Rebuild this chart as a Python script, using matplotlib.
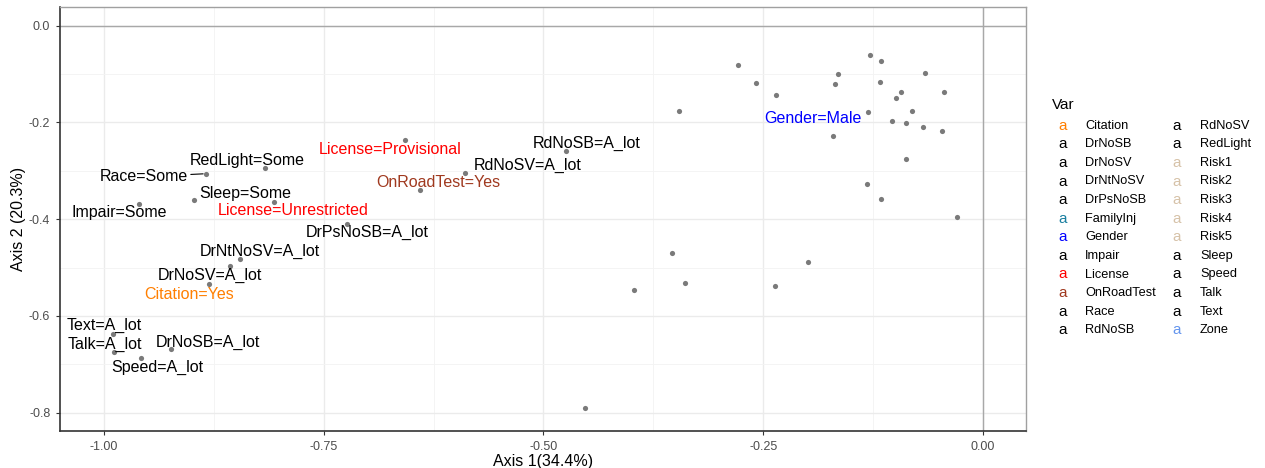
import matplotlib
matplotlib.use("Agg")
import matplotlib.pyplot as plt
from matplotlib.ticker import MultipleLocator

plt.rcParams['font.family'] = ['Liberation Sans', 'DejaVu Sans']

# labelled category coordinates (MCA axes 1 and 2)
lab_names = ["License=Provisional", "RedLight=Some", "Race=Some", "Sleep=Some",
             "Impair=Some", "License=Unrestricted", "OnRoadTest=Yes", "DrPsNoSB=A_lot",
             "DrNtNoSV=A_lot", "DrNoSV=A_lot", "Citation=Yes", "Text=A_lot",
             "Talk=A_lot", "Speed=A_lot", "DrNoSB=A_lot", "RdNoSB=A_lot",
             "RdNoSV=A_lot", "Gender=Male"]
lab_x = [-0.657, -0.817, -0.884, -0.898, -0.960, -0.807, -0.640, -0.723,
         -0.845, -0.857, -0.881, -0.990, -0.989, -0.958, -0.924, -0.474,
         -0.589, -0.131]
lab_y = [-0.237, -0.295, -0.306, -0.361, -0.368, -0.364, -0.340, -0.409,
         -0.483, -0.497, -0.535, -0.637, -0.675, -0.688, -0.669, -0.259,
         -0.304, -0.178]

# remaining category points, drawn without labels
pt_x = [-0.279, -0.258, -0.235, -0.346, -0.354, -0.397, -0.339, -0.237, -0.453,
        -0.128, -0.116, -0.165, -0.066, -0.168, -0.117, -0.093, -0.044, -0.099,
        -0.081, -0.103, -0.087, -0.068, -0.047, -0.171, -0.088, -0.132, -0.116,
        -0.029, -0.199]
pt_y = [-0.081, -0.119, -0.143, -0.176, -0.470, -0.547, -0.532, -0.538, -0.790,
        -0.061, -0.073, -0.099, -0.098, -0.121, -0.117, -0.137, -0.137, -0.150,
        -0.177, -0.197, -0.202, -0.210, -0.218, -0.228, -0.276, -0.327, -0.359,
        -0.396, -0.488]

# legend variables and their colours
var_names = ["Citation", "DrNoSB", "DrNoSV", "DrNtNoSV", "DrPsNoSB", "FamilyInj",
             "Gender", "Impair", "License", "OnRoadTest", "Race", "RdNoSB",
             "RdNoSV", "RedLight", "Risk1", "Risk2", "Risk3", "Risk4", "Risk5",
             "Sleep", "Speed", "Talk", "Text", "Zone"]
var_colors = ["#FF7F00", "black", "black", "black", "black", "#1A7FA0",
              "#0000FF", "black", "#FF0000", "#A0391F", "black", "black",
              "black", "black", "#D6C2A8", "#D6C2A8", "#D6C2A8", "#D6C2A8", "#D6C2A8",
              "black", "black", "black", "black", "#6495ED"]
color_of = dict(zip(var_names, var_colors))

# label placement (pixel offsets from the point, repel-style)
offsets = {
    "License=Provisional": (-15, -9), "RedLight=Some": (-18, 8), "Race=Some": (-62, -3),
    "Sleep=Some": (52, 7), "Impair=Some": (-20, -9), "License=Unrestricted": (20, -9),
    "OnRoadTest=Yes": (18, 8), "DrPsNoSB=A_lot": (20, -9), "DrNtNoSV=A_lot": (20, 8),
    "DrNoSV=A_lot": (-20, -9), "Citation=Yes": (-19, -10), "Text=A_lot": (-8, 8),
    "Talk=A_lot": (-9, 8), "Speed=A_lot": (16, -9), "DrNoSB=A_lot": (37, 7),
    "RdNoSB=A_lot": (20, 8), "RdNoSV=A_lot": (62, 7), "Gender=Male": (-55, -7),
}

W, H = 1265, 468
fig = plt.figure(figsize=(W / 100, H / 100), dpi=100)
ax = fig.add_axes([60 / W, 1 - 431 / H, 966 / W, 424 / H])

ax.set_xlim(-1.050, 0.049)
ax.set_ylim(-0.838, 0.0387)
ax.xaxis.set_major_locator(MultipleLocator(0.25))
ax.xaxis.set_minor_locator(MultipleLocator(0.125))
ax.yaxis.set_major_locator(MultipleLocator(0.2))
ax.yaxis.set_minor_locator(MultipleLocator(0.1))
ax.set_xticks([-1.0, -0.75, -0.5, -0.25, 0.0])
ax.set_xticklabels(["-1.00", "-0.75", "-0.50", "-0.25", "0.00"])
ax.set_yticks([0.0, -0.2, -0.4, -0.6, -0.8])
ax.set_yticklabels(["0.0", "-0.2", "-0.4", "-0.6", "-0.8"])

ax.grid(which="major", color="#EBEBEB", lw=1.0)
ax.grid(which="minor", color="#F3F3F3", lw=0.6)
ax.set_axisbelow(True)
ax.axhline(0, color="#A8A8A8", lw=1.0, zorder=1)
ax.axvline(0, color="#A8A8A8", lw=1.0, zorder=1)

for side in ["top", "right"]:
    ax.spines[side].set_color("#A0A0A0")
    ax.spines[side].set_linewidth(1.0)
for side in ["left", "bottom"]:
    ax.spines[side].set_color("#333333")
    ax.spines[side].set_linewidth(1.2)

ax.tick_params(which="major", length=3, width=0.8, color="#333333",
               labelsize=9, labelcolor="#4D4D4D", pad=4)
ax.tick_params(which="minor", length=0)

ax.scatter(pt_x + lab_x, pt_y + lab_y, s=14, color="#7A7A7A", zorder=3, linewidths=0)

for name, x, y in zip(lab_names, lab_x, lab_y):
    dx, dy = offsets[name]
    col = color_of[name.split("=")[0]]
    arrow = None
    if name == "Race=Some":
        arrow = dict(arrowstyle="-", color="black", lw=0.8, shrinkA=0, shrinkB=2)
    ax.annotate(name, (x, y), xytext=(dx, dy), textcoords="offset pixels",
                ha="center", va="center", fontsize=11.5, color=col,
                arrowprops=arrow, zorder=4)

ax.set_xlabel("Axis 1(34.4%)", fontsize=11.5, labelpad=1)
ax.set_ylabel("Axis 2 (20.3%)", fontsize=11.5, labelpad=2)

# legend drawn as text keys in two columns
fig.text(1052 / W, 1 - 105 / H, "Var", fontsize=11, ha="left", va="center")
for i, (v, c) in enumerate(zip(var_names, var_colors)):
    col, row = divmod(i, 12)
    ypix = 125.7 + row * 18.6
    kx = 1063 if col == 0 else 1177
    tx = 1085 if col == 0 else 1200
    fig.text(kx / W, 1 - ypix / H, "a", fontsize=11, color=c,
             ha="center", va="center")
    fig.text(tx / W, 1 - ypix / H, v, fontsize=9.2, ha="left", va="center")

fig.savefig("out.png", dpi=100)
